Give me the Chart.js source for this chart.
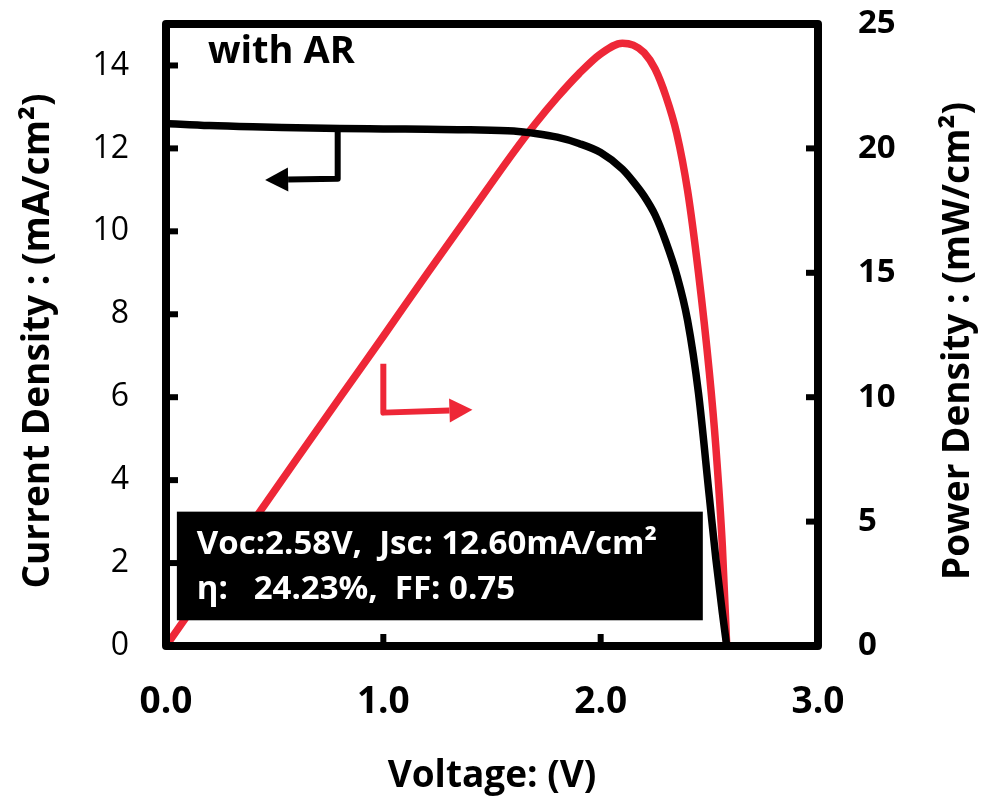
<!DOCTYPE html>
<html>
<head>
<meta charset="utf-8">
<script src="https://cdn.jsdelivr.net/npm/chart.js@4.4.1/dist/chart.umd.min.js"></script>
<style>
  html, body { margin: 0; padding: 0; background: #fff; }
  #wrap { width: 990px; height: 802px; }
</style>
</head>
<body>
<div id="wrap"><canvas id="c" width="990" height="802"></canvas></div>
<script>
// ---- data ----
const voltage = [0, 0.2, 0.4, 0.6, 0.8, 1.0, 1.2, 1.4, 1.6, 1.7, 1.8, 1.9, 2.0, 2.1, 2.15, 2.2, 2.25, 2.3, 2.35, 2.4, 2.45, 2.5, 2.53, 2.56, 2.58];
const currentDensity = [12.60, 12.55, 12.52, 12.50, 12.48, 12.47, 12.46, 12.45, 12.42, 12.36, 12.27, 12.12, 11.90, 11.50, 11.20, 10.85, 10.40, 9.75, 8.95, 7.85, 6.10, 3.60, 2.10, 0.80, 0];
const powerDensity = [0, 2.5, 5.0, 7.5, 9.98, 12.45, 14.95, 17.4, 19.85, 21.0, 22.05, 23.0, 23.8, 24.23, 24.15, 23.85, 23.2, 22.1, 20.6, 18.3, 15.0, 11.0, 8.0, 4.0, 0];
const xTicks = [0, 1, 2, 3];
const leftTicks = [0, 2, 4, 6, 8, 10, 12, 14];
const rightTicks = [0, 5, 10, 15, 20, 25];
const xTitle = 'Voltage: (V)';
const leftTitle = 'Current Density : (mA/cm\u00B2)';
const rightTitle = 'Power Density : (mW/cm\u00B2)';
const panelLabel = 'with AR';
const infoLine1 = 'Voc:2.58V,  Jsc: 12.60mA/cm\u00B2';
const infoLine2 = '\u03B7:   24.23%,  FF: 0.75';
// annotation anchors in data units: [voltage, value]
const infoBox = { x0: 0.05, x1: 2.47, y0: 3.24, y1: 0.62 };       // left-axis units
const labelPos = [0.193, 14.33];                                  // left-axis units
const blackArrow = [[0.79, 12.45], [0.79, 11.27], [0.456, 11.24]]; // left-axis units
const redArrow = [[1.0, 11.34], [1.0, 9.38], [1.41, 9.5]];          // right-axis units

const FONT = '"Open Sans", "DejaVu Sans", sans-serif';
const RED = '#EE2737';

function toXY(xs, ys) { return xs.map((v, i) => ({ x: v, y: ys[i] })); }

const deco = {
  id: 'deco',
  afterDatasetsDraw(chart) {
    const { ctx, chartArea: a, scales } = chart;
    const sx = scales.x, sy = scales.y, sy2 = scales.y2;
    ctx.save();

    // info box (covers the red line)
    const bx0 = sx.getPixelForValue(infoBox.x0), bx1 = sx.getPixelForValue(infoBox.x1);
    const by0 = sy.getPixelForValue(infoBox.y0), by1 = sy.getPixelForValue(infoBox.y1);
    ctx.fillStyle = '#000';
    ctx.fillRect(bx0, by0, bx1 - bx0, by1 - by0);
    ctx.fillStyle = '#fff';
    ctx.font = 'bold 33px ' + FONT;
    ctx.textBaseline = 'middle';
    ctx.textAlign = 'left';
    ctx.fillText(infoLine1, bx0 + 20, by0 + 33);
    ctx.fillText(infoLine2, bx0 + 20, by0 + 78);

    // arrows
    function arrow(pts, scaleY, color) {
      const p = pts.map(q => [sx.getPixelForValue(q[0]), scaleY.getPixelForValue(q[1])]);
      const tip = p[p.length - 1], prev = p[p.length - 2];
      const ang = Math.atan2(tip[1] - prev[1], tip[0] - prev[0]);
      const L = 23, H = 12;
      const base = [tip[0] - L * Math.cos(ang), tip[1] - L * Math.sin(ang)];
      ctx.strokeStyle = color; ctx.fillStyle = color;
      ctx.lineWidth = 6; ctx.lineJoin = 'round'; ctx.lineCap = 'butt';
      ctx.beginPath();
      ctx.moveTo(p[0][0], p[0][1]);
      for (let i = 1; i < p.length - 1; i++) ctx.lineTo(p[i][0], p[i][1]);
      ctx.lineTo(base[0], base[1]);
      ctx.stroke();
      ctx.beginPath();
      ctx.moveTo(tip[0], tip[1]);
      ctx.lineTo(base[0] + H * Math.sin(ang), base[1] - H * Math.cos(ang));
      ctx.lineTo(base[0] - H * Math.sin(ang), base[1] + H * Math.cos(ang));
      ctx.closePath();
      ctx.fill();
    }
    arrow(blackArrow, sy, '#000');
    arrow(redArrow, sy2, RED);

    // panel label
    ctx.fillStyle = '#000';
    ctx.font = 'bold 38px ' + FONT;
    ctx.textAlign = 'left';
    ctx.textBaseline = 'middle';
    ctx.fillText(panelLabel, sx.getPixelForValue(labelPos[0]), sy.getPixelForValue(labelPos[1]));

    // inside tick marks
    ctx.strokeStyle = '#000';
    ctx.lineWidth = 6;
    ctx.lineCap = 'butt';
    const T = 12;
    sy.ticks.forEach(t => {
      if (t.value <= sy.min || t.value >= sy.max) return;
      const p = sy.getPixelForValue(t.value);
      ctx.beginPath(); ctx.moveTo(a.left, p); ctx.lineTo(a.left + T, p); ctx.stroke();
    });
    sy2.ticks.forEach(t => {
      if (t.value <= sy2.min || t.value >= sy2.max) return;
      const p = sy2.getPixelForValue(t.value);
      ctx.beginPath(); ctx.moveTo(a.right, p); ctx.lineTo(a.right - T, p); ctx.stroke();
    });
    sx.ticks.forEach(t => {
      if (t.value <= sx.min || t.value >= sx.max) return;
      const p = sx.getPixelForValue(t.value);
      ctx.beginPath(); ctx.moveTo(p, a.bottom); ctx.lineTo(p, a.bottom - T); ctx.stroke();
    });

    // frame
    ctx.lineWidth = 8;
    ctx.lineJoin = 'round';
    ctx.strokeRect(a.left, a.top, a.right - a.left, a.bottom - a.top);

    // axis titles
    ctx.fillStyle = '#000';
    ctx.font = 'bold 37px ' + FONT;
    ctx.textAlign = 'center';
    ctx.textBaseline = 'middle';
    const midX = (a.left + a.right) / 2, midY = (a.top + a.bottom) / 2 + 6;
    ctx.fillText(xTitle, midX, a.bottom + 130);
    ctx.save();
    ctx.translate(a.left - 128, midY); ctx.rotate(-Math.PI / 2);
    ctx.fillText(leftTitle, 0, 0);
    ctx.restore();
    ctx.save();
    ctx.translate(a.right + 140, midY); ctx.rotate(-Math.PI / 2);
    ctx.fillText(rightTitle, 0, 0);
    ctx.restore();

    ctx.restore();
  }
};

function fixTicks(list) {
  return function (axis) { axis.ticks = list.map(v => ({ value: v })); };
}
function noPad(s) { s.paddingTop = 0; s.paddingBottom = 0; s.paddingLeft = 0; s.paddingRight = 0; }

function build() {
  new Chart(document.getElementById('c'), {
    type: 'line',
    data: {
      datasets: [
        {
          label: 'Current Density',
          data: toXY(voltage, currentDensity),
          yAxisID: 'y',
          borderColor: '#000',
          borderWidth: 7.5,
          pointRadius: 0,
          cubicInterpolationMode: 'monotone',
          fill: false
        },
        {
          label: 'Power Density',
          data: toXY(voltage, powerDensity),
          yAxisID: 'y2',
          borderColor: RED,
          borderWidth: 7.5,
          pointRadius: 0,
          cubicInterpolationMode: 'monotone',
          fill: false
        }
      ]
    },
    options: {
      responsive: false,
      animation: false,
      devicePixelRatio: 1,
      layout: { padding: { top: 24, left: 0, right: 0, bottom: 0 } },
      plugins: { legend: { display: false }, tooltip: { enabled: false } },
      scales: {
        x: {
          type: 'linear', min: 0, max: 3,
          afterBuildTicks: fixTicks(xTicks),
          afterFit(s) { s.height = 156; noPad(s); },
          grid: { display: false, drawTicks: false },
          border: { display: false },
          ticks: {
            padding: 34,
            color: '#000',
            font: { family: FONT, size: 37, weight: 'bold' },
            callback: v => Number(v).toFixed(1)
          }
        },
        y: {
          type: 'linear', position: 'left', min: 0, max: 15,
          afterBuildTicks: fixTicks(leftTicks),
          afterFit(s) { s.width = 166; noPad(s); },
          grid: { display: false, drawTicks: false },
          border: { display: false },
          ticks: {
            padding: 37,
            color: '#000',
            font: { family: FONT, size: 32, weight: 'normal' }
          }
        },
        y2: {
          type: 'linear', position: 'right', min: 0, max: 25,
          afterBuildTicks: fixTicks(rightTicks),
          afterFit(s) { s.width = 172; noPad(s); },
          grid: { display: false, drawTicks: false },
          border: { display: false },
          ticks: {
            padding: 40,
            color: '#000',
            font: { family: FONT, size: 33, weight: 'bold' }
          }
        }
      }
    },
    plugins: [deco]
  });
}

if (document.fonts && document.fonts.load) {
  Promise.all([
    document.fonts.load('bold 38px "Open Sans"'),
    document.fonts.load('32px "Open Sans"')
  ]).then(build, build);
} else {
  build();
}
</script>
</body>
</html>
